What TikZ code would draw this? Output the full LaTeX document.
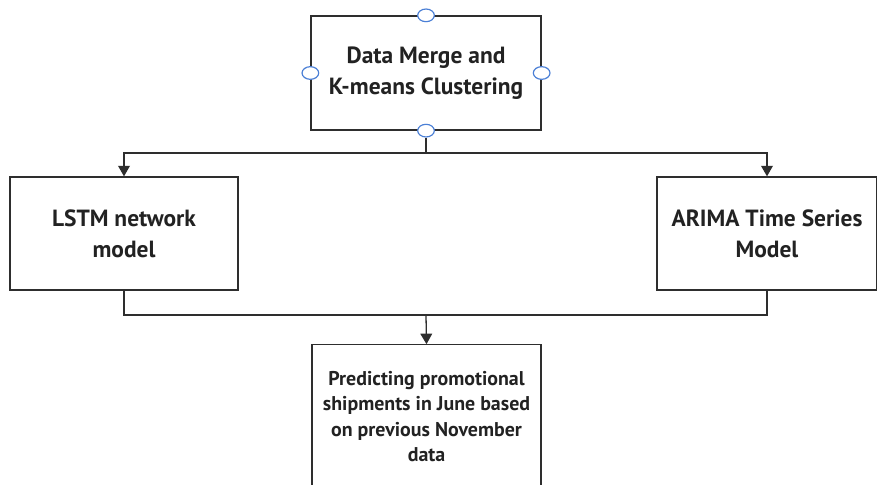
\documentclass[tikz,border=0pt]{standalone}
\usepackage{fontspec}
\setmainfont{PT Sans}
\usetikzlibrary{arrows.meta,shapes.geometric}
\definecolor{linegray}{HTML}{2E2E2E}
\definecolor{textgray}{HTML}{222222}
\definecolor{portblue}{HTML}{4A7FD6}
\tikzset{
  stepbox/.style = {draw=linegray, line width=1.1pt, align=center, text=textgray,
                    font=\bfseries\fontsize{20}{26.5}\selectfont, inner sep=0pt},
  port/.style    = {ellipse, draw=portblue, fill=white, line width=1pt,
                    minimum width=0.5cm, minimum height=0.38cm, inner sep=0pt},
  link/.style    = {draw=linegray, line width=1.1pt},
  tip/.style     = {link, -{Triangle[length=9pt,width=10pt]}}
}
\newcommand{\port}[2]{
\node [port] (#1) at (#2) {}
}
\begin{document}
\begin{tikzpicture}[x=0.03cm, y=-0.03cm]
\useasboundingbox[fill=white] (0,0) rectangle (877,485);

\node [stepbox, minimum width=6.9cm, minimum height=3.42cm] (merge) at (426,73)
  {Data Merge and\\K-means Clustering};
\node [stepbox, minimum width=6.84cm, minimum height=3.39cm] (lstm) at (124,233.5)
  {LSTM network\\model};
\node [stepbox, minimum width=6.6cm, minimum height=3.39cm] (arima) at (767,233.5)
  {ARIMA Time Series\\Model};
\node [stepbox, minimum width=6.87cm, minimum height=4.3cm,
       font=\bfseries\fontsize{17}{21.5}\selectfont] (predict) at (426.5,416.5)
  {Predicting promotional\\shipments in June based\\on previous November\\data};

\port{pn}{merge.north}; \port{pw}{merge.west};
\port{pe}{merge.east};  \port{ps}{merge.south};

\coordinate (split) at (426,153);
\coordinate (join) at (426,315);

\draw [link] (ps) -- (split);
\draw [tip] (split) -| (lstm.north);
\draw [tip] (split) -| (arima.north);

\draw [link] (lstm.south) |- (join);
\draw [link] (arima.south) |- (join);
\draw [tip] (join) -- (predict.north);
\end{tikzpicture}
\end{document}
